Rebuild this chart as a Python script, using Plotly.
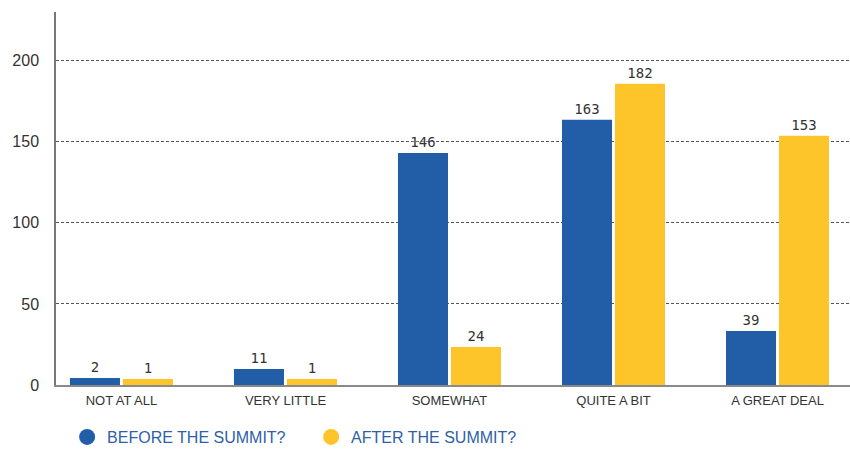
import plotly.graph_objects as go

categories = ["NOT AT ALL", "VERY LITTLE", "SOMEWHAT", "QUITE A BIT", "A GREAT DEAL"]
series_names = ["BEFORE THE SUMMIT?", "AFTER THE SUMMIT?"]
# bar heights as drawn in the picture
before_heights = [4.3, 9.9, 143, 163.6, 33.3]
after_heights = [3.7, 3.7, 23.5, 185.8, 153.7]
# printed value labels
before_labels = [2, 11, 146, 163, 39]
after_labels = [1, 1, 24, 182, 153]
y_ticks = [0, 50, 100, 150, 200]

BLUE = "#225ea8"
YELLOW = "#fdc52a"

x_idx = list(range(len(categories)))

label_font = dict(family="DejaVu Sans Mono", size=14, color="#333333",
                  shadow="0px 0px 3px white")

fig = go.Figure()
fig.add_trace(go.Bar(
    x=x_idx, y=before_heights, text=[str(v) for v in before_labels],
    width=0.305, offset=-0.314, marker_color=BLUE, marker_line_width=0,
    textposition="outside", cliponaxis=False, showlegend=False,
    textfont=label_font,
))
fig.add_trace(go.Bar(
    x=x_idx, y=after_heights, text=[str(v) for v in after_labels],
    width=0.305, offset=0.009, marker_color=YELLOW, marker_line_width=0,
    textposition="outside", cliponaxis=False, showlegend=False,
    textfont=label_font,
))
# legend entries with round symbols
for name, col in zip(series_names, [BLUE, YELLOW]):
    fig.add_trace(go.Scatter(
        x=[None], y=[None], mode="markers", name=name,
        marker=dict(symbol="circle", size=16, color=col),
    ))

fig.update_layout(
    width=850, height=449,
    margin=dict(l=56, r=0, t=12, b=64, autoexpand=False),
    plot_bgcolor="white", paper_bgcolor="white",
    barmode="overlay",
    font=dict(family="Liberation Sans", color="#333333"),
    legend=dict(
        orientation="h", x=0.014, xanchor="left", y=-0.094, yanchor="top",
        xref="paper", yref="paper",
        entrywidth=199, entrywidthmode="pixels",
        font=dict(family="Liberation Sans", size=16, color="#2e5fa8"),
        itemsizing="trace",
    ),
    xaxis=dict(
        tickmode="array", tickvals=x_idx, ticktext=categories,
        range=[-0.399, 4.442], showgrid=False, zeroline=False,
        showline=True, linecolor="#8a8a8a", linewidth=2,
        tickfont=dict(family="Liberation Sans", size=13, color="#333333"),
        ticks="", ticklabelstandoff=2,
    ),
    yaxis=dict(
        range=[0, 230], tickmode="array", tickvals=y_ticks,
        showgrid=True, gridcolor="#555555", gridwidth=1, griddash="3px,2px",
        zeroline=False, showline=True, linecolor="#777777", linewidth=1.5,
        tickfont=dict(family="Liberation Sans", size=16, color="#333333"),
        ticks="", ticklabelstandoff=12,
    ),
)

fig.write_html("out.html")
